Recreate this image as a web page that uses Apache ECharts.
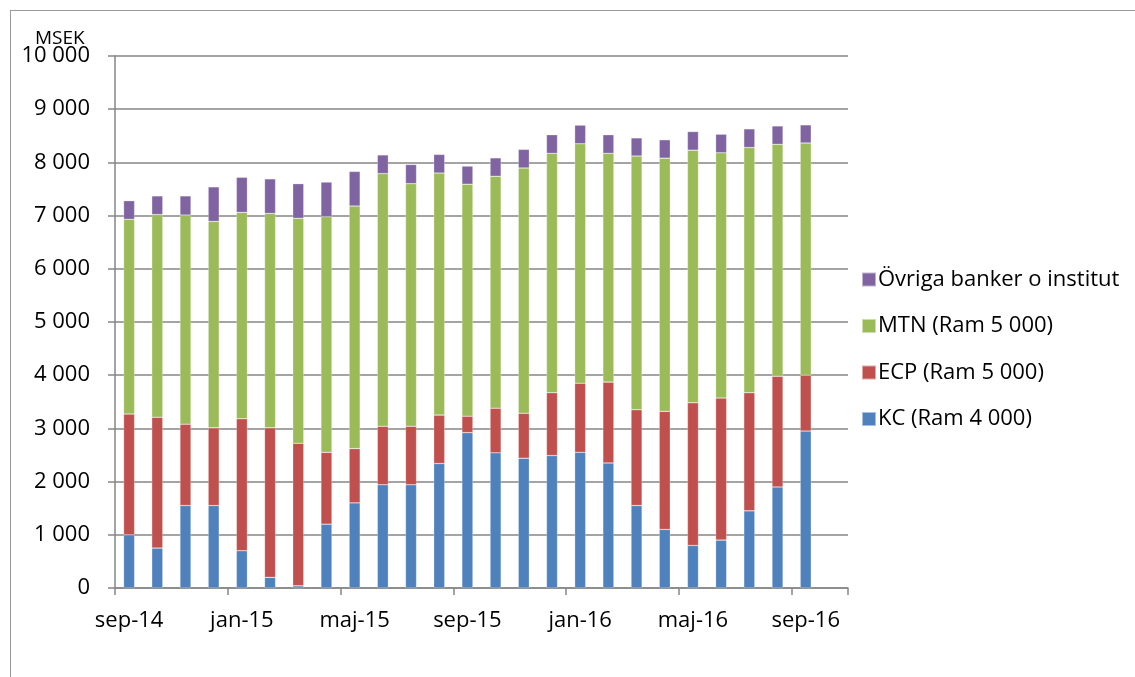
<!DOCTYPE html>
<html>
<head>
<meta charset="utf-8">
<script src="https://cdn.jsdelivr.net/npm/echarts@6/dist/echarts.min.js"></script>
<style>
  html, body { margin: 0; padding: 0; background: #fff; }
  #frame {
    position: absolute; left: 10px; top: 10px; right: -2px; bottom: -2px;
    border-left: 1.5px solid #9a9a9a; border-top: 1.5px solid #9a9a9a;
  }
  #main { position: absolute; left: 0; top: 0; width: 1135px; height: 677px; }
</style>
</head>
<body>
<div id="frame"></div>
<div id="main"></div>
<script>
// månader, sista kategorin är tom (axeln går ett steg längre)
const months = [
  "sep-14", "okt-14", "nov-14", "dec-14", "jan-15", "feb-15", "mar-15", "apr-15",
  "maj-15", "jun-15", "jul-15", "aug-15", "sep-15", "okt-15", "nov-15", "dec-15",
  "jan-16", "feb-16", "mar-16", "apr-16", "maj-16", "jun-16", "jul-16", "aug-16",
  "sep-16", "okt-16"
];
const kc = [1000, 750, 1550, 1550, 700, 200, 40, 1200, 1600, 1940, 1940, 2340, 2920,
  2540, 2440, 2490, 2550, 2350, 1550, 1100, 800, 900, 1450, 1900, 2950];
const ecp = [2270, 2460, 1530, 1460, 2480, 2810, 2680, 1350, 1020, 1100, 1100, 910, 310,
  840, 845, 1180, 1300, 1520, 1800, 2220, 2680, 2670, 2220, 2080, 1050];
const mtn = [3660, 3810, 3930, 3880, 3880, 4030, 4230, 4430, 4560, 4750, 4560, 4550, 4360,
  4360, 4610, 4500, 4500, 4300, 4770, 4760, 4750, 4610, 4610, 4360, 4365];
const ovriga = [350, 350, 360, 650, 660, 650, 650, 650, 650, 350, 360, 350, 340,
  345, 350, 350, 350, 350, 340, 345, 350, 350, 350, 345, 340];

const names = ["KC (Ram 4 000)", "ECP (Ram 5 000)", "MTN (Ram 5 000)", "Övriga banker o institut"];
const colors = ["#4f81bd", "#c0504d", "#9bbb59", "#8064a2"];
const values = [kc, ecp, mtn, ovriga];

const font = "Open Sans";
const chart = echarts.init(document.getElementById("main"), null, { renderer: "canvas" });

const option = {
  animation: false,
  title: {
    text: "MSEK",
    left: 30, top: 24,
    textStyle: { fontFamily: font, fontSize: 19, fontWeight: "normal", color: "#000" }
  },
  grid: { left: 115, right: 287, top: 56, bottom: 89 },
  legend: {
    orient: "vertical",
    left: 856, top: 262,
    data: names.slice().reverse(),
    icon: "rect",
    itemWidth: 14, itemHeight: 14,
    itemGap: 21.5,
    textStyle: { fontFamily: font, fontSize: 22, color: "#000", lineHeight: 25, padding: [0, 0, 0, -3] }
  },
  xAxis: {
    type: "category",
    data: months,
    boundaryGap: true,
    axisLine: { lineStyle: { color: "#868686", width: 1.5 } },
    axisTick: { show: true, interval: 3, length: 7, lineStyle: { color: "#868686", width: 1.5 } },
    axisLabel: { interval: 3, margin: 22, fontFamily: font, fontSize: 22, color: "#000" }
  },
  yAxis: {
    type: "value",
    min: 0, max: 10000, interval: 1000,
    axisLine: { show: true, lineStyle: { color: "#868686", width: 1.5 } },
    axisTick: { show: true, length: 7, lineStyle: { color: "#868686", width: 1.5 } },
    splitLine: { lineStyle: { color: "#868686", width: 1.5 } },
    axisLabel: {
      margin: 25, fontFamily: font, fontSize: 22, color: "#000",
      formatter: v => String(v).replace(/\B(?=(\d{3})+(?!\d))/g, " ")
    }
  },
  series: names.map((n, i) => ({
    name: n,
    type: "bar",
    stack: "total",
    barWidth: 11,
    data: values[i],
    itemStyle: { color: colors[i], borderColor: "rgba(255,255,255,0.5)", borderWidth: 0.5 }
  }))
};
chart.setOption(option);
</script>
</body>
</html>
